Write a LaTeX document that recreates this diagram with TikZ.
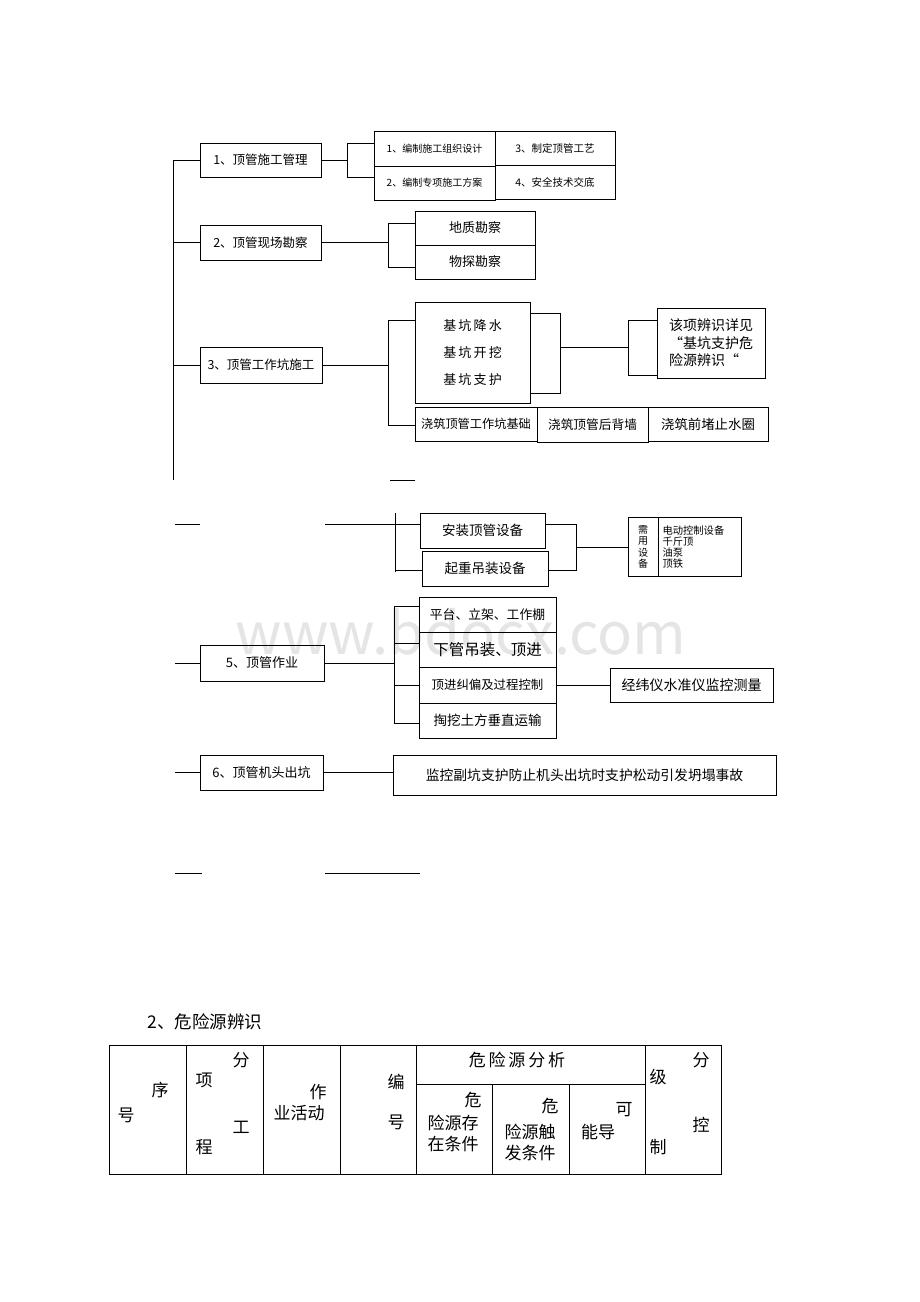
\documentclass[tikz,border=0pt]{standalone}
\usepackage{fontspec}
\setmainfont{Noto Sans CJK SC}
\newcommand\fsz[2]{\fontsize{#1}{#2}\selectfont}
\begin{document}
\begin{tikzpicture}[x=1pt,y=-1pt,
  bx/.style={draw, line width=0.8pt, inner sep=0pt, align=center},
  ln/.style={line width=0.8pt},
  cell/.style={inner sep=0pt, anchor=center, font=\fsz{17}{20}}]
\useasboundingbox (0,0) rectangle (920,1302);
\fill[white] (0,0) rectangle (920,1302);

% watermark
\node[text=black!10, font=\fsz{58}{60}] (wm) at (461,632) {www.bdocx.com};

% ---- level 1 boxes
\node[bx, minimum width=121pt, minimum height=34pt, font=\fsz{12.5}{15}] (b1) at (260.5,160) {1、顶管施工管理};
\node[bx, minimum width=121pt, minimum height=35pt, font=\fsz{12.5}{15}] (b2) at (260.5,242.5) {2、顶管现场勘察};
\node[bx, minimum width=122pt, minimum height=36pt, font=\fsz{12.5}{15}] (b3) at (261,365) {3、顶管工作坑施工};
\node[bx, minimum width=124pt, minimum height=36pt, font=\fsz{13}{15}] (b5) at (262,663) {5、顶管作业};
\node[bx, minimum width=123pt, minimum height=35pt, font=\fsz{13}{15}] (b6) at (261.5,772.5) {6、顶管机头出坑};

% ---- group 1
\node[bx, minimum width=121pt, minimum height=35pt, font=\fsz{10}{12}] (s1) at (434.5,148.5) {1、编制施工组织设计};
\node[bx, minimum width=121pt, minimum height=34pt, font=\fsz{10}{12}] (s2) at (434.5,183) {2、编制专项施工方案};
\node[bx, minimum width=120pt, minimum height=34pt, font=\fsz{10.5}{12}] (s3) at (555,148) {3、制定顶管工艺};
\node[bx, minimum width=120pt, minimum height=34pt, font=\fsz{10.5}{12}] (s4) at (555,182) {4、安全技术交底};

% ---- group 2
\node[bx, minimum width=120pt, minimum height=34pt, font=\fsz{13}{15}] (g1) at (475,228) {地质勘察};
\node[bx, minimum width=120pt, minimum height=34pt, font=\fsz{13}{15}] (g2) at (475,262) {物探勘察};

% ---- group 3
\node[bx, minimum width=115pt, minimum height=101pt, font=\fsz{13}{27}] (k) at (472.5,352.5) {基\,坑\,降\,水\\基\,坑\,开\,挖\\基\,坑\,支\,护};
\node[bx, minimum width=108pt, minimum height=70pt, font=\fsz{14}{17.5}, align=left] (n) at (711,343) {该项辨识详见\\“基坑支护危\\险源辨识“};
\node[bx, minimum width=122pt, minimum height=34pt, font=\fsz{12.2}{14}] (r1) at (476,424) {浇筑顶管工作坑基础};
\node[bx, minimum width=111pt, minimum height=35pt, font=\fsz{12.7}{14}] (r2) at (592.5,424.5) {浇筑顶管后背墙};
\node[bx, minimum width=120pt, minimum height=34pt, font=\fsz{13.4}{15}] (r3) at (708,424) {浇筑前堵止水圈};

% ---- group 4
\node[bx, minimum width=125pt, minimum height=35pt, font=\fsz{13.5}{15}] (e1) at (482.5,530.5) {安装顶管设备};
\node[bx, minimum width=126pt, minimum height=35pt, font=\fsz{13.5}{15}] (e2) at (485,568.5) {起重吊装设备};
\node[bx, minimum width=30pt, minimum height=59pt, font=\fsz{10}{11.5}] (eq) at (643,547) {需\\用\\设\\备};
\node[bx, minimum width=83pt, minimum height=59pt, font=\fsz{10.3}{11}, align=left, text width=74pt] (el) at (699.5,547) {电动控制设备\\千斤顶\\油泵\\顶铁};

% ---- group 5
\node[bx, minimum width=137pt, minimum height=35pt, font=\fsz{12.8}{15}] (p1) at (487.5,614.5) {平台、立架、工作棚};
\node[bx, minimum width=137pt, minimum height=35pt, font=\fsz{15.5}{17}] (p2) at (487.5,649.5) {下管吊装、顶进};
\node[bx, minimum width=137pt, minimum height=36pt, font=\fsz{12.4}{15}] (p3) at (487.5,685) {顶进纠偏及过程控制};
\node[bx, minimum width=137pt, minimum height=35pt, font=\fsz{13.5}{15}] (p4) at (487.5,720.5) {掏挖土方垂直运输};
\node[bx, minimum width=163pt, minimum height=34pt, font=\fsz{14}{16}] (m) at (691.5,685) {经纬仪水准仪监控测量};

% ---- group 6
\node[bx, minimum width=383pt, minimum height=40pt, font=\fsz{13.8}{16}] (w) at (584.5,775) {监控副坑支护防止机头出坑时支护松动引发坍塌事故};

% ---- coordinates
\coordinate (T1) at (173,160);
\coordinate (T2) at (173,480);
\coordinate (j1a) at (347,143);
\coordinate (j1b) at (347,177);
\coordinate (j2a) at (388,223);
\coordinate (j2b) at (388,267);
\coordinate (j3a) at (388,320);
\coordinate (j3b) at (388,425);
\coordinate (ka) at (560,313);
\coordinate (kb) at (560,393);
\coordinate (km) at (560,347);
\coordinate (na) at (628,320);
\coordinate (nb) at (628,375);
\coordinate (x1a) at (390,480);
\coordinate (x1b) at (415,480);
\coordinate (x2a) at (175,524);
\coordinate (x2b) at (200,524);
\coordinate (x3a) at (325,524);
\coordinate (j4a) at (395,513);
\coordinate (j4b) at (395,572);
\coordinate (j4c) at (395,570);
\coordinate (ea) at (576,524);
\coordinate (eb) at (576,570);
\coordinate (em) at (576,547);
\coordinate (x5) at (175,663);
\coordinate (j5a) at (394,606);
\coordinate (j5b) at (394,723);
\coordinate (j5c) at (394,643);
\coordinate (j5d) at (394,685);
\coordinate (x6) at (175,772.5);
\coordinate (y1a) at (175,873);
\coordinate (y1b) at (202,873);
\coordinate (y2a) at (325,873);
\coordinate (y2b) at (420,873);

% ---- connectors
\draw[ln] (T1) -- (T2);
\draw[ln] (T1) -- (b1.west);
\draw[ln] (b2.west -| T1) -- (b2.west);
\draw[ln] (b3.west -| T1) -- (b3.west);

\draw[ln] (b1.east) -- (b1.east -| j1a);
\draw[ln] (j1a -| s1.west) -- (j1a) -- (j1b) -- (j1b -| s2.west);

\draw[ln] (b2.east) -- (b2.east -| j2a);
\draw[ln] (j2a -| g1.west) -- (j2a) -- (j2b) -- (j2b -| g2.west);

\draw[ln] (b3.east) -- (b3.east -| j3a);
\draw[ln] (j3a -| k.west) -- (j3a) -- (j3b) -- (j3b -| r1.west);
\draw[ln] (ka -| k.east) -- (ka) -- (kb) -- (kb -| k.east);
\draw[ln] (km) -- (km -| na);
\draw[ln] (na -| n.west) -- (na) -- (nb) -- (nb -| n.west);

\draw[ln] (x1a) -- (x1b);
\draw[ln] (x2a) -- (x2b);
\draw[ln] (x3a) -- (x3a -| e1.west);
\draw[ln] (j4a) -- (j4b);
\draw[ln] (j4c) -- (j4c -| e2.west);
\draw[ln] (ea -| e1.east) -- (ea) -- (eb) -- (eb -| e2.east);
\draw[ln] (em) -- (eq.west);

\draw[ln] (x5) -- (b5.west);
\draw[ln] (b5.east) -- (b5.east -| j5a);
\draw[ln] (j5a) -- (j5b);
\draw[ln] (j5a) -- (j5a -| p1.west);
\draw[ln] (j5c) -- (j5c -| p2.west);
\draw[ln] (j5d) -- (p3.west);
\draw[ln] (j5b) -- (j5b -| p4.west);
\draw[ln] (p3.east) -- (m.west);

\draw[ln] (x6) -- (b6.west);
\draw[ln] (b6.east) -- (b6.east -| w.west);

\draw[ln] (y1a) -- (y1b);
\draw[ln] (y2a) -- (y2b);

% ---- table
\node[cell, font=\fsz{17.5}{20}] (title) at (205,1022) {2、危险源辨识};
\draw[line width=0.9pt] (109,1045) rectangle (721,1174);
\foreach \xx in {186,263,340,416,645} \draw[line width=0.9pt] (\xx,1045) -- (\xx,1174);
\foreach \xx in {492,569} \draw[line width=0.9pt] (\xx,1084) -- (\xx,1174);
\draw[line width=0.9pt] (416,1084) -- (645,1084);

\node[cell] (t1a) at (160,1090) {序};
\node[cell] (t1b) at (126,1115) {号};
\node[cell] (t2a) at (241,1060) {分};
\node[cell] (t2b) at (204,1080) {项};
\node[cell] (t2c) at (241,1127) {工};
\node[cell] (t2d) at (204,1147) {程};
\node[cell] (t3a) at (318,1092) {作};
\node[cell] (t3b) at (299,1113) {业活动};
\node[cell] (t4a) at (396,1082) {编};
\node[cell] (t4b) at (396,1122) {号};
\node[cell] (th) at (517,1060) {危\,险\,源\,分\,析};
\node[cell] (t5a) at (473,1100) {危};
\node[cell] (t5b) at (453,1123) {险源存};
\node[cell] (t5c) at (453,1144) {在条件};
\node[cell] (t6a) at (550,1106) {危};
\node[cell] (t6b) at (530,1132) {险源触};
\node[cell] (t6c) at (530,1153) {发条件};
\node[cell] (t7a) at (624,1110) {可};
\node[cell] (t7b) at (598,1132) {能导};
\node[cell] (t8a) at (701,1060) {分};
\node[cell] (t8b) at (658,1077) {级};
\node[cell] (t8c) at (701,1125) {控};
\node[cell] (t8d) at (658,1147) {制};
\end{tikzpicture}
\end{document}
